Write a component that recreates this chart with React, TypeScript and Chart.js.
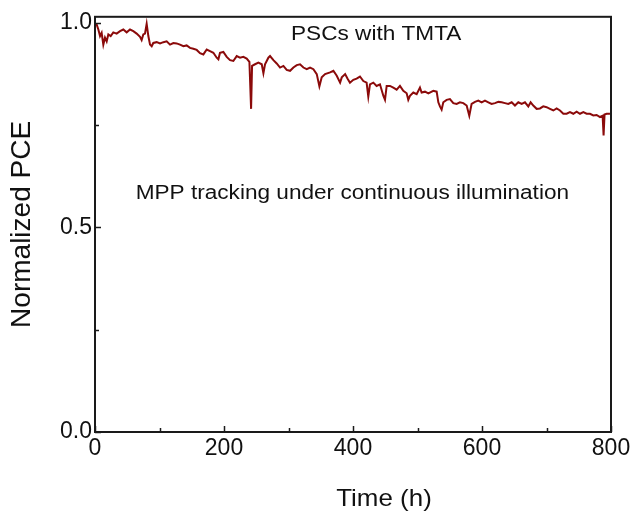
import React, { useEffect, useRef } from "react";
import { Chart, registerables } from "chart.js";

Chart.register(...registerables);

// ---- Data ----
const timeH: number[] = [
  0.5, 2.6, 5.2, 7.8, 10.3, 12.9, 15.5, 18.1, 20.7, 24.3, 28.4, 33.6, 38.8, 43.9, 49.1, 54.3, 59.4, 64.6, 69.8, 72.3,
  74.9, 77.5, 80.1, 82.7, 85.3, 87.9, 90.4, 95.6, 100.8, 106.0, 111.1, 116.3, 121.5, 126.6, 131.8, 137.0, 142.1, 147.3,
  152.5, 157.7, 162.8, 168.0, 173.2, 178.3, 183.5, 188.7, 191.3, 193.8, 199.0, 204.2, 209.4, 214.5, 219.7, 224.9, 230.0,
  235.2, 239.4, 242.0, 243.5, 248.1, 253.3, 258.5, 261.1, 263.6, 268.8, 271.4, 276.6, 281.7, 286.9, 292.1, 297.2, 302.4,
  307.6, 312.8, 317.9, 323.1, 328.3, 333.4, 338.6, 343.8, 347.9, 351.5, 356.7, 364.5, 369.6, 374.8, 380.0, 382.6, 387.8,
  391.4,
  395.3, 400.5, 405.6, 410.8, 416.0, 421.1, 423.7, 426.3, 431.5, 436.6, 441.8, 447.0, 449.6, 452.2, 457.3, 462.5, 467.7,
  472.8, 478.0, 483.2, 485.7, 488.3, 493.5, 498.7, 503.8, 506.4, 511.6, 516.8, 524.5, 529.7, 532.3, 534.8, 537.4, 540.0,
  545.2, 550.3, 555.5, 560.7, 565.8, 571.0, 576.2, 580.3, 583.9, 589.1, 594.3, 599.4, 604.6, 609.8, 614.9, 620.1, 625.3,
  630.5, 635.6, 640.8, 646.0, 651.1, 656.3, 661.5, 666.6, 671.8, 675.4, 679.5, 684.7, 689.9, 695.0, 700.2, 705.4, 710.6,
  715.7, 720.9, 726.1, 731.2, 736.4, 741.6, 746.7, 751.9, 757.1, 762.2, 767.4, 772.6, 777.7, 782.9, 787.0, 788.5, 790.0,
  793.2, 798.4,
];

const normalizedPCE: number[] = [
  0.995, 0.996, 0.984, 0.968, 0.976, 0.947, 0.964, 0.955, 0.972, 0.968, 0.977, 0.974, 0.98, 0.984, 0.977, 0.984, 0.98,
  0.974, 0.966, 0.958, 0.972, 0.974, 0.998, 0.968, 0.947, 0.943, 0.951, 0.953, 0.95, 0.953, 0.955, 0.947, 0.951, 0.95,
  0.947, 0.943, 0.945, 0.939, 0.937, 0.934, 0.926, 0.923, 0.935, 0.931, 0.927, 0.915, 0.911, 0.927, 0.929, 0.917, 0.909,
  0.907, 0.919, 0.915, 0.917, 0.913, 0.905, 0.79, 0.895, 0.899, 0.903, 0.899, 0.877, 0.899, 0.915, 0.919, 0.909, 0.901,
  0.891, 0.895, 0.885, 0.883, 0.891, 0.897, 0.899, 0.891, 0.887, 0.891, 0.887, 0.875, 0.845, 0.867, 0.875, 0.879, 0.883,
  0.871, 0.854, 0.867, 0.875, 0.864,
  0.854, 0.861, 0.864, 0.869, 0.858, 0.854, 0.82, 0.85, 0.854, 0.846, 0.85, 0.822, 0.812, 0.846, 0.846, 0.842, 0.837,
  0.846, 0.834, 0.828, 0.812, 0.822, 0.83, 0.826, 0.842, 0.83, 0.832, 0.828, 0.834, 0.832, 0.806, 0.796, 0.788, 0.806,
  0.812, 0.814, 0.804, 0.802, 0.806, 0.804, 0.798, 0.773, 0.802, 0.807, 0.81, 0.806, 0.81, 0.806, 0.802, 0.804, 0.807,
  0.806, 0.804, 0.802, 0.806, 0.798, 0.806, 0.802, 0.806, 0.796, 0.806, 0.798, 0.79, 0.791, 0.796, 0.794, 0.79, 0.786,
  0.791, 0.786, 0.778, 0.778, 0.782, 0.778, 0.783, 0.778, 0.782, 0.778, 0.778, 0.774, 0.775, 0.77, 0.773, 0.725, 0.776,
  0.778, 0.778,
];

const xMajorTicks = [0, 200, 400, 600, 800];
const xMinorTicks = [100, 300, 500, 700];
const yMajorTicks = [0, 0.5, 1.0];
const yMinorTicks = [0.25, 0.75];

const xTitle = "Time (h)";
const yTitle = "Normalized PCE";
const noteTexts = ["PSCs with TMTA", "MPP tracking under continuous illumination"];
const noteX = [436, 399];
const noteY = [0.971, 0.583];

const FONT = '"Liberation Sans", Arial, Helvetica, sans-serif';
const LINE_COLOR = "#8b0a0a";
const AXIS_COLOR = "#1a1a1a";

const framePlugin = {
  id: "frameAndTicks",
  afterDraw(chart: any) {
    const { ctx, chartArea, scales } = chart;
    const xs = scales.x;
    const ys = scales.y;
    ctx.save();
    ctx.strokeStyle = AXIS_COLOR;
    ctx.lineWidth = 2;
    ctx.strokeRect(chartArea.left, chartArea.top, chartArea.right - chartArea.left, chartArea.bottom - chartArea.top);
    ctx.lineWidth = 1.5;
    const drawX = (vals: number[], len: number) => {
      for (const v of vals) {
        const px = Math.round(xs.getPixelForValue(v)) + 0.5;
        ctx.beginPath();
        ctx.moveTo(px, chartArea.bottom);
        ctx.lineTo(px, chartArea.bottom - len);
        ctx.stroke();
      }
    };
    const drawY = (vals: number[], len: number) => {
      for (const v of vals) {
        const py = Math.round(ys.getPixelForValue(v)) + 0.5;
        ctx.beginPath();
        ctx.moveTo(chartArea.left, py);
        ctx.lineTo(chartArea.left + len, py);
        ctx.stroke();
      }
    };
    drawX(xMajorTicks, 6);
    drawX(xMinorTicks, 4);
    drawY(yMajorTicks, 6);
    drawY(yMinorTicks, 4);

    ctx.fillStyle = "#111";
    ctx.font = `20px ${FONT}`;
    ctx.textAlign = "center";
    ctx.textBaseline = "middle";
    noteTexts.forEach((t, i) => {
      const px = xs.getPixelForValue(noteX[i]);
      const py = ys.getPixelForValue(noteY[i]);
      ctx.save();
      ctx.translate(px, py);
      ctx.scale(1.13, 1);
      ctx.fillText(t, 0, 0);
      ctx.restore();
    });

    // x-axis title (offset to the right of the plot centre, as in the reference)
    ctx.font = `24px ${FONT}`;
    ctx.save();
    ctx.translate(384, 499);
    ctx.scale(1.08, 1);
    ctx.fillText(xTitle, 0, 0);
    ctx.restore();
    ctx.restore();
  },
};

export default function App() {
  const canvasRef = useRef<HTMLCanvasElement | null>(null);

  useEffect(() => {
    if (!canvasRef.current) return;
    const chart = new Chart(canvasRef.current, {
      type: "line",
      data: {
        datasets: [
          {
            data: timeH.map((t, i) => ({ x: t, y: normalizedPCE[i] })),
            borderColor: LINE_COLOR,
            borderWidth: 2,
            pointRadius: 0,
            tension: 0,
            fill: false,
          },
        ],
      },
      options: {
        animation: false,
        responsive: false,
        maintainAspectRatio: false,
        devicePixelRatio: 1,
        layout: { padding: { left: 0, right: 24, top: 14, bottom: 0 } },
        plugins: { legend: { display: false }, tooltip: { enabled: false }, title: { display: false } },
        scales: {
          x: {
            type: "linear",
            min: 0,
            max: 800,
            grid: { display: false, drawTicks: false },
            border: { display: false },
            afterFit: (s: any) => {
              s.height = 91;
            },
            afterBuildTicks: (s: any) => {
              s.ticks = xMajorTicks.map((v) => ({ value: v }));
            },
            ticks: {
              padding: 3,
              color: "#111",
              font: { family: FONT, size: 23 },
              maxRotation: 0,
              callback: (v: any) => String(v),
            },
            title: { display: false },
          },
          y: {
            type: "linear",
            min: 0,
            max: 1.015,
            grid: { display: false, drawTicks: false },
            border: { display: false },
            afterFit: (s: any) => {
              s.width = 95;
            },
            afterBuildTicks: (s: any) => {
              s.ticks = yMajorTicks.map((v) => ({ value: v }));
            },
            ticks: {
              padding: 3,
              color: "#111",
              font: { family: FONT, size: 23 },
              callback: (v: any) => Number(v).toFixed(1),
            },
            title: {
              display: true,
              text: yTitle,
              color: "#111",
              font: { family: FONT, size: 28 },
              padding: { top: 5, bottom: 0 },
            },
          },
        },
      },
      plugins: [framePlugin],
    } as any);
    return () => chart.destroy();
  }, []);

  return (
    <div style={{ position: "absolute", left: 0, top: 0, width: 635, height: 523, background: "#fff" }}>
      <canvas ref={canvasRef} width={635} height={523} style={{ width: 635, height: 523, display: "block" }} />
    </div>
  );
}
